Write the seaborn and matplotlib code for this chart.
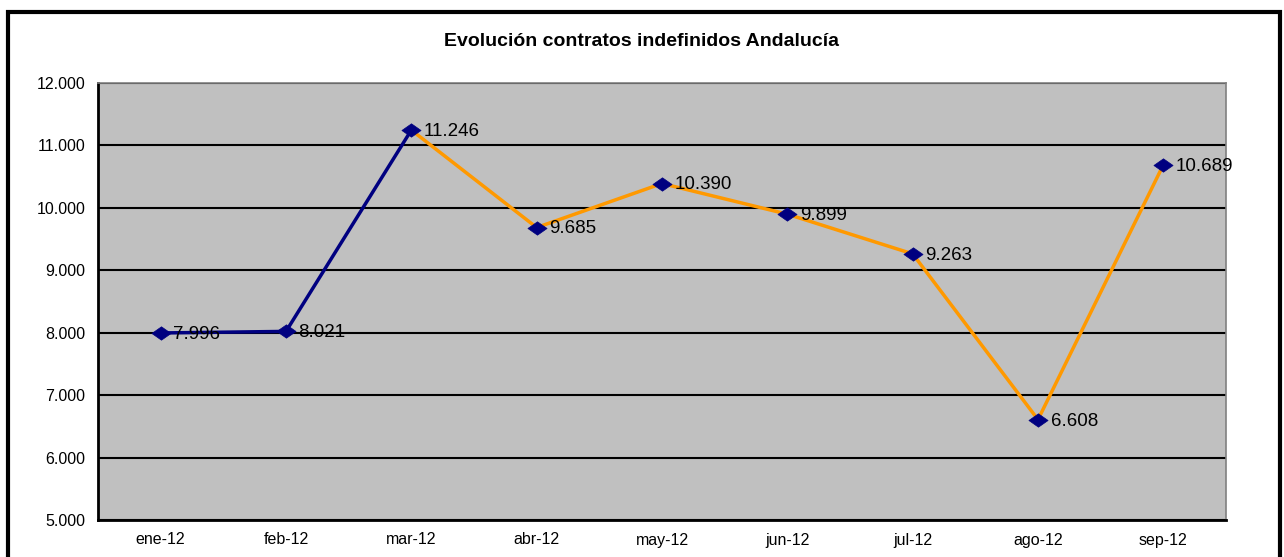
import pandas as pd
import seaborn as sns
import matplotlib.pyplot as plt
from matplotlib.patches import Rectangle
from matplotlib.path import Path
from matplotlib.ticker import FuncFormatter

# data
meses = ['ene-12', 'feb-12', 'mar-12', 'abr-12', 'may-12', 'jun-12', 'jul-12', 'ago-12', 'sep-12']
contratos = [7996, 8021, 11246, 9685, 10390, 9899, 9263, 6608, 10689]
etiquetas = ['7.996', '8.021', '11.246', '9.685', '10.390', '9.899', '9.263', '6.608', '10.689']

df = pd.DataFrame({'mes': range(len(meses)), 'valor': contratos})

sns.set_style('white')
plt.rcParams['font.family'] = ['Liberation Sans', 'DejaVu Sans']
plt.rcParams['text.color'] = 'black'
plt.rcParams['xtick.color'] = 'black'
plt.rcParams['ytick.color'] = 'black'

fig = plt.figure(figsize=(12.84, 5.57), dpi=100)
ax = fig.add_axes([98 / 1284, 1 - 520 / 557, (1226 - 98) / 1284, (520 - 83) / 557])
ax.set_facecolor('#C0C0C0')

# flattened diamond like the Excel marker
rombo = Path([(-1, 0), (0, 0.7), (1, 0), (0, -0.7), (-1, 0)],
             [Path.MOVETO, Path.LINETO, Path.LINETO, Path.LINETO, Path.CLOSEPOLY])

# navy part (ene - mar), orange part (mar - sep)
sns.lineplot(data=df.iloc[:3], x='mes', y='valor', color='#000080', linewidth=2.5, ax=ax)
sns.lineplot(data=df.iloc[2:], x='mes', y='valor', color='#FF9900', linewidth=2.5, ax=ax)
sns.scatterplot(data=df, x='mes', y='valor', marker=rombo, s=190, color='#000080',
                edgecolor='#000080', linewidth=0.5, zorder=5, ax=ax)

for i, (v, t) in enumerate(zip(contratos, etiquetas)):
    ax.annotate(t, (i, v), xytext=(9, -1), textcoords='offset points',
                ha='left', va='center', fontsize=13.5, color='black', zorder=6)

ax.set_xlim(-0.5, len(meses) - 0.5)
ax.set_ylim(5000, 12000)
ax.set_yticks(range(5000, 12001, 1000))
ax.yaxis.set_major_formatter(FuncFormatter(lambda v, p: f'{int(v):,}'.replace(',', '.')))
ax.set_xticks(range(len(meses)))
ax.set_xticklabels(meses)
ax.set_xticks([i - 0.5 for i in range(len(meses) + 1)], minor=True)
ax.tick_params(axis='x', which='major', length=0, pad=9, labelsize=11.5)
ax.tick_params(axis='x', which='minor', length=5, width=1.2, color='black', direction='out')
ax.tick_params(axis='y', length=5, width=1.2, color='black', direction='out', labelsize=11.5, pad=4)
ax.set_xlabel('')
ax.set_ylabel('')

ax.grid(axis='y', color='black', linewidth=1.5)
ax.set_axisbelow(True)
for s in ['left', 'bottom']:
    ax.spines[s].set_color('black')
    ax.spines[s].set_linewidth(2)
for s in ['top', 'right']:
    ax.spines[s].set_color('#808080')
    ax.spines[s].set_linewidth(1.2)

fig.text(0.5, 1 - 42 / 557, 'Evolución contratos indefinidos Andalucía', ha='center', va='center',
         fontsize=14, fontweight='bold', color='black')

# outer frame
fig.patches.append(Rectangle((8 / 1284, -0.05), (1280 - 8) / 1284, 1.05 - 12 / 557,
                             transform=fig.transFigure, fill=False, edgecolor='black', linewidth=3))

plt.savefig('out.png', dpi=100)
